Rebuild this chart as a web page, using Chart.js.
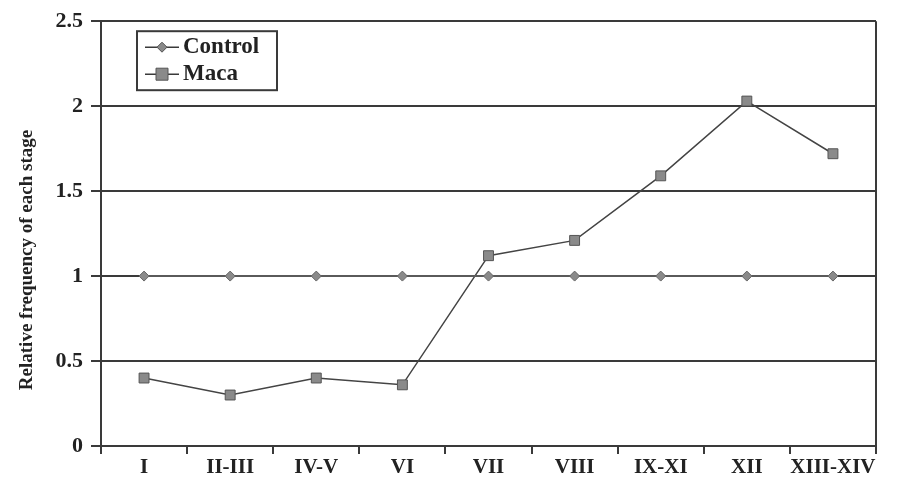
<!DOCTYPE html>
<html>
<head>
<meta charset="utf-8">
<script src="https://cdn.jsdelivr.net/npm/chart.js@4/dist/chart.umd.min.js"></script>
<style>
  body { margin: 0; background: #fff; }
  #wrap { width: 897px; height: 504px; }
</style>
</head>
<body>
<div id="wrap"><canvas id="grafico" width="897" height="504"></canvas></div>
<script>
// datos
const stages = ['I', 'II-III', 'IV-V', 'VI', 'VII', 'VIII', 'IX-XI', 'XII', 'XIII-XIV'];
const control = [1, 1, 1, 1, 1, 1, 1, 1, 1];
const maca = [0.4, 0.3, 0.4, 0.36, 1.12, 1.21, 1.59, 2.03, 1.72];
const yTicks = [0, 0.5, 1, 1.5, 2, 2.5];
const yTitle = 'Relative frequency of each stage';

const ink = '#3a3a3a';
const fontSerif = 'Liberation Serif, Times New Roman, serif';

// leyenda dentro del area del grafico, borde derecho y titulo del eje Y
const boxLegend = {
    id: 'boxLegend',
    afterDraw(chart) {
        const ctx = chart.ctx;
        const a = chart.chartArea;
        ctx.save();
        // borde derecho
        ctx.strokeStyle = ink;
        ctx.lineWidth = 2;
        ctx.beginPath();
        ctx.moveTo(a.right, a.top);
        ctx.lineTo(a.right, a.bottom);
        ctx.stroke();

        // titulo del eje Y (algo desplazado hacia abajo como en el original)
        ctx.save();
        ctx.translate(27, 260);
        ctx.rotate(-Math.PI / 2);
        ctx.fillStyle = '#222';
        ctx.font = 'bold 19px ' + fontSerif;
        ctx.textAlign = 'center';
        ctx.textBaseline = 'middle';
        ctx.fillText(yTitle, 0, 0);
        ctx.restore();

        const x = a.left + 36, y = a.top + 10, w = 140, h = 59;
        ctx.fillStyle = '#fff';
        ctx.fillRect(x, y, w, h);
        ctx.strokeStyle = ink;
        ctx.lineWidth = 2;
        ctx.strokeRect(x, y, w, h);
        ctx.font = 'bold 23px ' + fontSerif;
        ctx.textBaseline = 'middle';
        chart.data.datasets.forEach((ds, i) => {
            const cy = y + 16 + i * 27;
            ctx.strokeStyle = ink;
            ctx.lineWidth = 1.5;
            ctx.beginPath();
            ctx.moveTo(x + 8, cy);
            ctx.lineTo(x + 42, cy);
            ctx.stroke();
            ctx.fillStyle = '#8a8a8a';
            ctx.strokeStyle = '#555';
            ctx.lineWidth = 1;
            ctx.beginPath();
            if (ds.pointStyle === 'rectRot') {
                ctx.moveTo(x + 25, cy - 5);
                ctx.lineTo(x + 30, cy);
                ctx.lineTo(x + 25, cy + 5);
                ctx.lineTo(x + 20, cy);
                ctx.closePath();
            } else {
                ctx.rect(x + 19, cy - 6, 12, 12);
            }
            ctx.fill();
            ctx.stroke();
            ctx.fillStyle = '#222';
            ctx.fillText(ds.label, x + 46, cy);
        });
        ctx.restore();
    }
};

new Chart(document.getElementById('grafico'), {
    type: 'line',
    data: {
        labels: stages,
        datasets: [{
            label: 'Control',
            data: control,
            borderColor: '#666',
            borderWidth: 1.5,
            pointStyle: 'rectRot',
            pointRadius: 5,
            pointBackgroundColor: '#8a8a8a',
            pointBorderColor: '#666',
            pointBorderWidth: 1
        }, {
            label: 'Maca',
            data: maca,
            borderColor: '#444',
            borderWidth: 1.5,
            pointStyle: 'rect',
            pointRadius: 7,
            pointBackgroundColor: '#8a8a8a',
            pointBorderColor: '#555',
            pointBorderWidth: 1
        }]
    },
    options: {
        responsive: false,
        animation: false,
        layout: { padding: { top: 20, right: 21, left: 0, bottom: 0 } },
        plugins: {
            legend: { display: false },
            tooltip: { enabled: false }
        },
        scales: {
            x: {
                offset: true,
                grid: {
                    offset: true,
                    drawOnChartArea: false,
                    drawTicks: true,
                    tickLength: 8,
                    color: ink,
                    lineWidth: 2
                },
                border: { color: ink, width: 2 },
                ticks: {
                    color: '#222',
                    font: { family: fontSerif, size: 21, weight: 'bold' },
                    padding: 1,
                    maxRotation: 0,
                    autoSkip: false
                },
                afterFit(scale) { scale.height = 58; }
            },
            y: {
                min: 0,
                max: 2.5,
                afterBuildTicks(scale) {
                    scale.ticks = yTicks.map(v => ({ value: v }));
                },
                grid: {
                    color: ink,
                    lineWidth: 2,
                    tickLength: 10
                },
                border: { color: ink, width: 2 },
                ticks: {
                    color: '#222',
                    font: { family: fontSerif, size: 22, weight: 'bold' },
                    padding: 8,
                    callback: v => String(v)
                },
                afterFit(scale) { scale.width = 101; }
            }
        }
    },
    plugins: [boxLegend]
});
</script>
</body>
</html>
